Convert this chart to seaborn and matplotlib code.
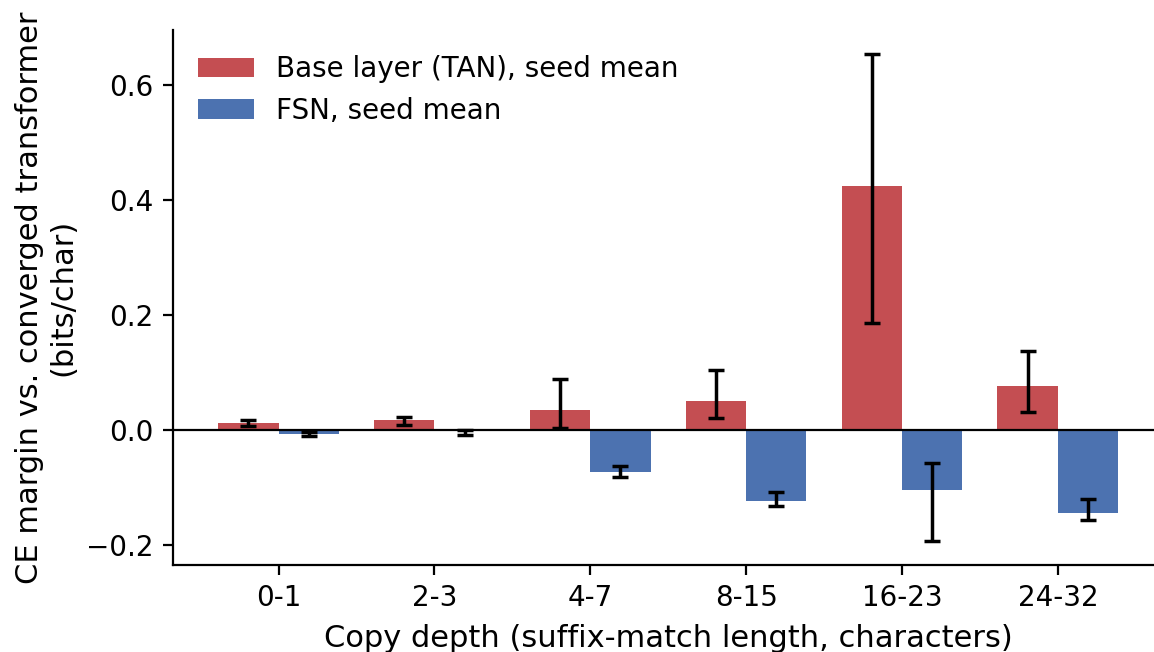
import numpy as np
import pandas as pd
import matplotlib
matplotlib.use("Agg")
import matplotlib.pyplot as plt
import seaborn as sns

categories = ["0-1", "2-3", "4-7", "8-15", "16-23", "24-32"]
series_names = ["Base layer (TAN), seed mean", "FSN, seed mean"]

tan_mean = [0.012, 0.017, 0.035, 0.050, 0.424, 0.076]
tan_lo = [0.008, 0.009, 0.003, 0.021, 0.187, 0.031]
tan_hi = [0.017, 0.023, 0.089, 0.105, 0.653, 0.138]

fsn_mean = [-0.006, -0.002, -0.072, -0.123, -0.104, -0.144]
fsn_lo = [-0.010, -0.008, -0.081, -0.131, -0.192, -0.156]
fsn_hi = [-0.003, 0.001, -0.062, -0.108, -0.057, -0.120]

colors = ["#C44E52", "#4C72B0"]

plt.rcParams["font.family"] = ["DejaVu Sans"]

df = pd.DataFrame({
    "depth": categories * 2,
    "series": [series_names[0]] * len(categories) + [series_names[1]] * len(categories),
    "value": tan_mean + fsn_mean,
})

fig, ax = plt.subplots(figsize=(5.77, 3.26), dpi=200)
sns.barplot(data=df, x="depth", y="value", hue="series", palette=colors,
            width=0.775, saturation=1, errorbar=None, ax=ax, order=categories,
            hue_order=series_names, linewidth=0)

bounds = [(tan_mean, tan_lo, tan_hi), (fsn_mean, fsn_lo, fsn_hi)]
for cont, (m, lo, hi) in zip(ax.containers, bounds):
    xs = [p.get_x() + p.get_width() / 2 for p in cont.patches]
    m = np.array(m); lo = np.array(lo); hi = np.array(hi)
    ax.errorbar(xs, m, yerr=[m - lo, hi - m], fmt="none", ecolor="black",
                elinewidth=1.25, capsize=3, capthick=1.25, zorder=3)

ax.axhline(0, color="black", lw=0.8, zorder=2)
ax.set_xlabel("Copy depth (suffix-match length, characters)", fontsize=11)
ax.set_ylabel("CE margin vs. converged transformer\n(bits/char)", fontsize=11,
              labelpad=3)
ax.tick_params(labelsize=10)
ax.legend(frameon=False, fontsize=10, loc="upper left")
sns.despine(ax=ax)
fig.subplots_adjust(left=0.150, right=1.008, bottom=0.1334, top=0.954)
fig.savefig("out.png", dpi=200)
